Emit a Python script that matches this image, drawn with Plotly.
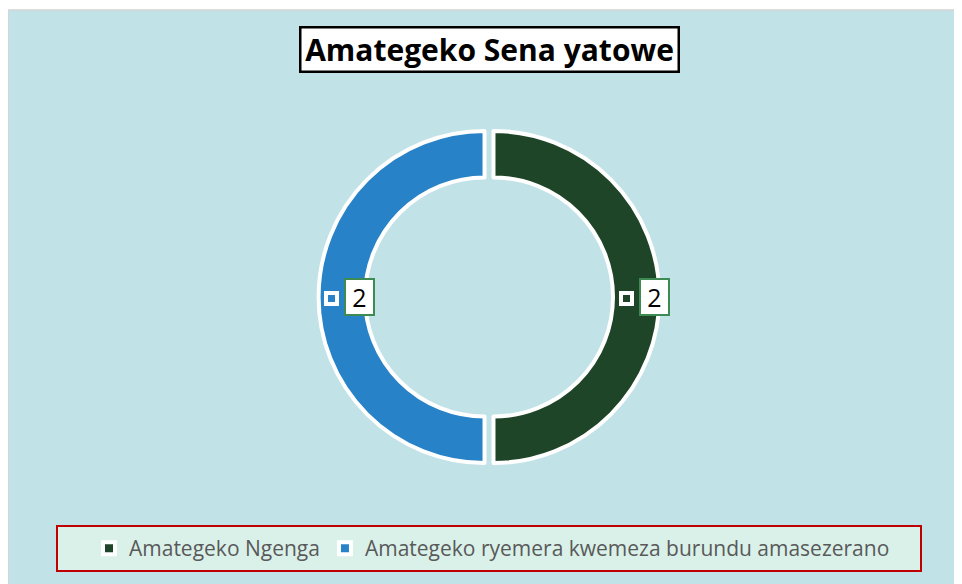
import math
import plotly.graph_objects as go

# data
labels = ["Amategeko Ngenga", "Amategeko ryemera kwemeza burundu amasezerano"]
values = [2, 2]
colors = ["#1f4529", "#2782c7"]
title_text = "Amategeko Sena yatowe"

W, H = 962, 584
OFF = 8  # the page body adds an 8px margin
FONT = "Open Sans"
BG = "#c1e2e7"

# donut geometry (px on screen)
cx, cy, r = 489, 297, 166
pull, hole = 0.027, 0.72


def px(x):
    return (x - OFF) / W


def py(y):
    return 1 - (y - OFF) / H


half = r * (1 + pull)
fig = go.Figure(go.Pie(
    labels=labels, values=values, sort=False, direction="clockwise", rotation=0,
    hole=hole, pull=pull, textinfo="none", hoverinfo="label+value",
    marker=dict(colors=colors, line=dict(color="white", width=4)),
    domain=dict(x=[px(cx - half), px(cx + half)], y=[py(cy + half), py(cy - half)]),
))

# chart area + legend box
shapes = [
    dict(type="rect", xref="paper", yref="paper", layer="below",
         x0=px(8), x1=px(W + 20), y0=py(H + 20), y1=py(10),
         fillcolor=BG, line=dict(color="#d4d4d4", width=1.5)),
    dict(type="rect", xref="paper", yref="paper", layer="below",
         x0=px(57), x1=px(921), y0=py(571), y1=py(526),
         fillcolor="#daf1ea", line=dict(color="#c00000", width=2)),
]

annotations = [dict(
    text=f"<b>{title_text}</b>", x=px(489), y=py(49), xref="paper", yref="paper",
    xanchor="center", yanchor="middle", showarrow=False,
    font=dict(family=FONT, size=30, color="black"), width=374, height=40,
    bgcolor="white", bordercolor="black", borderwidth=2.5, borderpad=1,
)]

# data labels: legend key + value box at middle of each slice
total = sum(values)
cum = 0
rm = r * (1 + hole) / 2 + pull * r
for v, c in zip(values, colors):
    theta = math.radians((cum + v / 2) / total * 360)
    cum += v
    x = cx + rm * math.sin(theta)
    y = cy - rm * math.cos(theta)
    annotations.append(dict(
        text=" ", x=px(x), y=py(y + 1), xref="paper", yref="paper", xshift=-10,
        xanchor="center", yanchor="middle", showarrow=False, width=7, height=7,
        bgcolor=c, bordercolor="white", borderwidth=4, borderpad=0, font=dict(size=4)))
    annotations.append(dict(
        text=str(v), x=px(x), y=py(y), xref="paper", yref="paper", xshift=18,
        xanchor="center", yanchor="middle", showarrow=False, width=27, height=34,
        bgcolor="white", bordercolor="#3d8b52", borderwidth=2, borderpad=0,
        font=dict(family=FONT, size=25, color="black")))

fig.update_layout(
    width=W, height=H, margin=dict(l=0, r=0, t=0, b=0),
    paper_bgcolor="white", shapes=shapes, annotations=annotations,
    showlegend=True,
    legend=dict(orientation="h", x=px(492), xanchor="center", y=py(548.5), yanchor="middle",
                bgcolor="rgba(0,0,0,0)", font=dict(family=FONT, size=21, color="#595959")),
)

fig.write_html("out.html")
